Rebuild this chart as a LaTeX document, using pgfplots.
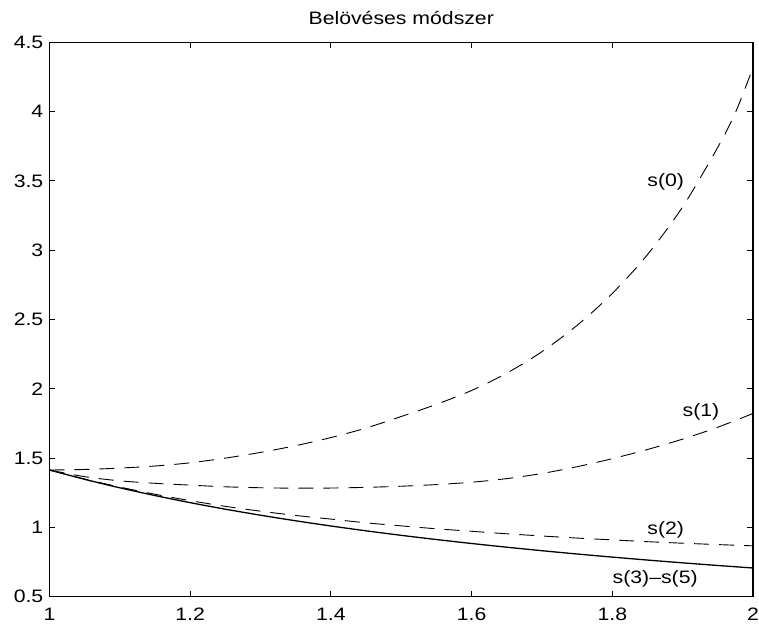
\documentclass[border=0pt]{standalone}
\usepackage{fontspec}
\setmainfont{Liberation Sans}[FakeStretch=1.18]
\usepackage{pgfplots}
\pgfplotsset{compat=1.18}
\pgfplotstableread{
x y
1.00 1.414
1.05 1.418
1.10 1.428
1.15 1.443
1.20 1.466
1.25 1.500
1.30 1.541
1.35 1.590
1.40 1.648
1.45 1.717
1.50 1.800
1.55 1.888
1.60 1.988
1.65 2.113
1.70 2.268
1.75 2.458
1.80 2.688
1.85 2.968
1.90 3.313
1.95 3.743
1.975 3.993
2.00 4.318
}\sZero
\pgfplotstableread{
x y
1.00 1.414
1.05 1.366
1.10 1.336
1.15 1.318
1.20 1.305
1.25 1.293
1.30 1.286
1.35 1.283
1.40 1.284
1.45 1.289
1.50 1.297
1.55 1.309
1.60 1.326
1.65 1.352
1.70 1.389
1.75 1.438
1.80 1.496
1.85 1.562
1.90 1.637
1.95 1.723
2.00 1.822
}\sOne
\pgfplotstableread{
x y
1.00 1.414
1.05 1.349
1.10 1.291
1.15 1.239
1.20 1.193
1.25 1.152
1.30 1.117
1.35 1.086
1.40 1.060
1.45 1.033
1.50 1.011
1.55 0.990
1.60 0.972
1.65 0.954
1.70 0.938
1.75 0.923
1.80 0.910
1.85 0.897
1.90 0.886
1.95 0.876
2.00 0.867
}\sTwo
\pgfplotstableread{
x y
1.00 1.4142
1.05 1.3469
1.10 1.2856
1.15 1.2298
1.20 1.1785
1.25 1.1314
1.30 1.0879
1.35 1.0476
1.40 1.0102
1.45 0.9753
1.50 0.9428
1.55 0.9124
1.60 0.8839
1.65 0.8571
1.70 0.8319
1.75 0.8081
1.80 0.7857
1.85 0.7644
1.90 0.7443
1.95 0.7252
2.00 0.7071
}\sThree
\begin{document}
\fontsize{18pt}{21pt}\selectfont
\begin{tikzpicture}
\useasboundingbox (-49.5pt,-29.3pt) rectangle (709.5pt,596.7pt);
\begin{axis}[
  scale only axis, width=703.5pt, height=554.4pt,
  xmin=1, xmax=2, ymin=0.5, ymax=4.5,
  xtick={1,1.2,1.4,1.6,1.8,2},
  ytick={0.5,1,1.5,2,2.5,3,3.5,4,4.5},
  tick align=inside, major tick length=6pt,
  tick style={black, line width=0.9pt},
  axis line style={black, line width=1.1pt},
  /pgf/number format/assume math mode=true,
  ticklabel style={font=\fontsize{18pt}{21pt}\selectfont},
  xticklabel style={inner sep=0pt, anchor=north, yshift=-11pt},
  yticklabel style={inner sep=0pt, anchor=east, xshift=-6pt},
  clip=false,
]
\addplot[black, line width=0.9pt, dash pattern=on 15pt off 10pt, smooth] table {\sZero};
\addplot[black, line width=0.9pt, dash pattern=on 15pt off 10pt, smooth] table {\sOne};
\addplot[black, line width=0.9pt, dash pattern=on 15pt off 10pt, smooth] table {\sTwo};
\addplot[black, line width=1.3pt, smooth] table {\sThree};
\node at (axis cs:1.876,3.49) {s(0)};
\node at (axis cs:1.926,1.835) {s(1)};
\node at (axis cs:1.876,0.986) {s(2)};
\node at (axis cs:1.861,0.626) {s(3)–s(5)};
\node[anchor=base, inner sep=0pt, yshift=17.3pt] at (rel axis cs:0.5,1) {Belövéses módszer};
\end{axis}
\end{tikzpicture}
\end{document}
